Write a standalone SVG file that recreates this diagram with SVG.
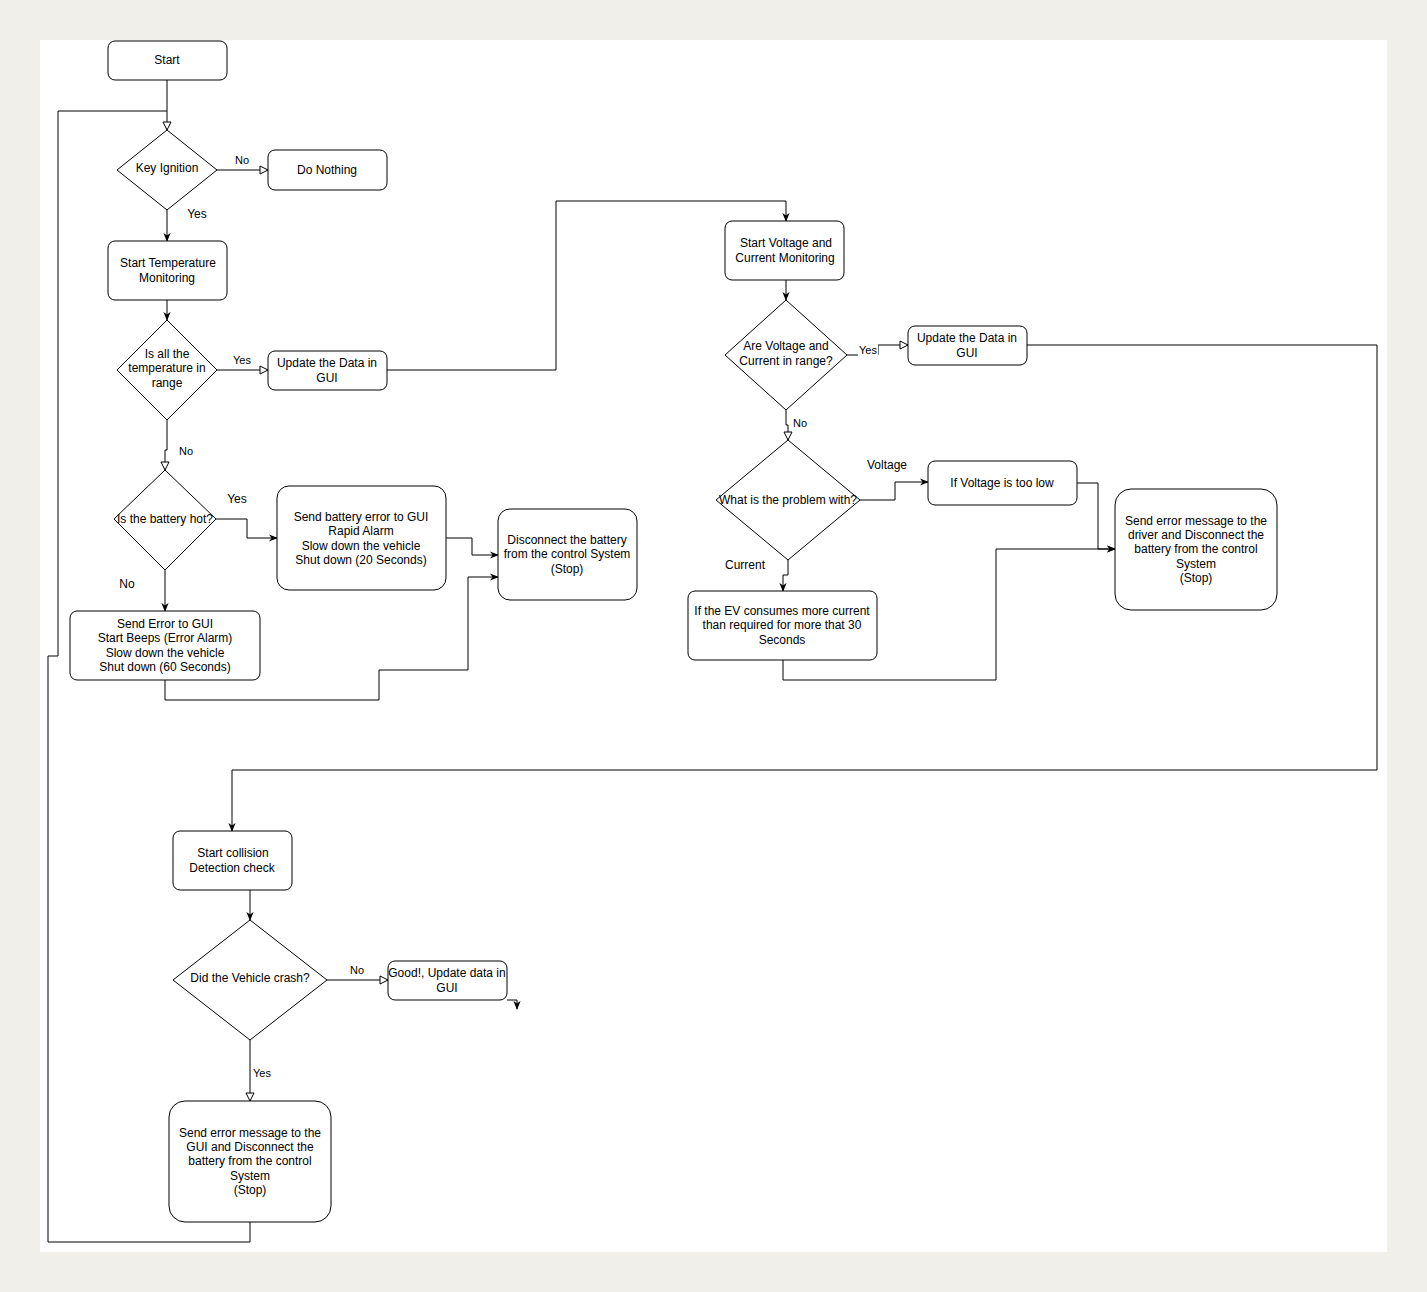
<svg xmlns="http://www.w3.org/2000/svg" width="1427" height="1292" viewBox="0 0 1427 1292">
<style>
.n{fill:#fff;stroke:#000;stroke-width:1}
.t{font-family:"Liberation Sans",Arial,sans-serif;font-size:12px;fill:#000;text-anchor:middle}
.l{font-family:"Liberation Sans",Arial,sans-serif;font-size:11px;fill:#000;text-anchor:middle}
.c{fill:none;stroke:#000;stroke-width:1}
.f{marker-end:url(#af)}
.h{marker-end:url(#ah)}
</style>
<defs>
<marker id="af" viewBox="0 0 10 10" refX="9" refY="5" markerWidth="9" markerHeight="9" orient="auto" markerUnits="userSpaceOnUse"><path d="M0,1 L10,5 L0,9 L3,5 Z" fill="#000"/></marker>
<marker id="ah" viewBox="0 0 10 10" refX="9" refY="5" markerWidth="10" markerHeight="10" orient="auto" markerUnits="userSpaceOnUse"><path d="M1,1 L9,5 L1,9 Z" fill="#fff" stroke="#000"/></marker>
</defs>
<rect width="1427" height="1292" fill="#f0efea"/>
<rect x="40" y="40" width="1347" height="1212" fill="#fff"/>
<g id="connectors">
<path class="c h" d="M167,80 V130"/>
<path class="c" d="M250,1222 V1242 H48 V656 H58 V111 H167"/>
<path class="c h" d="M217,170 H268"/>
<path class="c f" d="M167,210 V241"/>
<path class="c f" d="M167,300 V320"/>
<path class="c h" d="M217,370 H268"/>
<path class="c h" d="M167,420 V450 H165 V470"/>
<path class="c f" d="M387,370 H556 V201 H786 V221"/>
<path class="c f" d="M216,519 H247 V538 H277"/>
<path class="c f" d="M165,570 V611"/>
<path class="c f" d="M446,538 H472 V555 H498"/>
<path class="c f" d="M165,680 V700 H379 V670 H468 V577 H498"/>
<path class="c f" d="M786,280 V300"/>
<path class="c h" d="M847,355 H878 V345 H908"/>
<path class="c f" d="M1027,345 H1377 V770 H232 V831"/>
<path class="c h" d="M786,410 V425 H788 V440"/>
<path class="c f" d="M860,500 H895 V482 H928"/>
<path class="c f" d="M788,560 V575 H783 V591"/>
<path class="c f" d="M1077,483 H1098 V549 H1115" stroke="#555"/>
<path class="c f" d="M783,660 V680 H996 V549 H1115"/>
<path class="c f" d="M250,890 V920"/>
<path class="c h" d="M327,980 H388"/>
<path class="c h" d="M250,1040 V1101"/>
<path class="c f" d="M507,1000 H517 V1009"/>
<text class="l" x="242" y="164">No</text>
<text class="t" x="197" y="218">Yes</text>
<text class="l" x="242" y="364">Yes</text>
<text class="l" x="186" y="455">No</text>
<text class="t" x="237" y="503">Yes</text>
<text class="t" x="127" y="588">No</text>
<rect x="858" y="344" width="20" height="12" fill="#fff"/>
<text class="l" x="868" y="354">Yes</text>
<text class="l" x="800" y="427">No</text>
<text class="t" x="887" y="469">Voltage</text>
<text class="t" x="745" y="569">Current</text>
<text class="l" x="357" y="974">No</text>
<text class="l" x="262" y="1077">Yes</text>
</g>
<g id="start"><rect class="n" x="108" y="41" width="119" height="39" rx="7"/><text class="t" x="167" y="64">Start</text></g>
<g id="key"><path class="n" d="M167,130 L217,170 L167,210 L117,170 Z"/><text class="t" x="167" y="172">Key Ignition</text></g>
<g id="nothing"><rect class="n" x="268" y="150" width="119" height="40" rx="7"/><text class="t" x="327" y="174">Do Nothing</text></g>
<g id="temp"><rect class="n" x="108" y="241" width="119" height="59" rx="7"/><text class="t" x="168" y="267">Start Temperature</text><text class="t" x="167" y="282">Monitoring</text></g>
<g id="range"><path class="n" d="M167,320 L217,370 L167,420 L117,370 Z"/><text class="t" x="167" y="358">Is all the</text><text class="t" x="167" y="372">temperature in</text><text class="t" x="167" y="387">range</text></g>
<g id="gui1"><rect class="n" x="268" y="351" width="119" height="39" rx="7"/><text class="t" x="327" y="367">Update the Data in</text><text class="t" x="327" y="382">GUI</text></g>
<g id="hot"><path class="n" d="M165,470 L216,519 L165,570 L114,519 Z"/><text class="t" x="165" y="523">Is the battery hot?</text></g>
<g id="berr"><rect class="n" x="277" y="486" width="169" height="104" rx="12"/><text class="t" x="361" y="521">Send battery error to GUI</text><text class="t" x="361" y="535">Rapid Alarm</text><text class="t" x="361" y="550">Slow down the vehicle</text><text class="t" x="361" y="564">Shut down (20 Seconds)</text></g>
<g id="disc"><rect class="n" x="498" y="509" width="139" height="91" rx="12"/><text class="t" x="567" y="544">Disconnect the battery</text><text class="t" x="567" y="558">from the control System</text><text class="t" x="567" y="573">(Stop)</text></g>
<g id="err"><rect class="n" x="70" y="611" width="190" height="69" rx="7"/><text class="t" x="165" y="628">Send Error to GUI</text><text class="t" x="165" y="642">Start Beeps (Error Alarm)</text><text class="t" x="165" y="657">Slow down the vehicle</text><text class="t" x="165" y="671">Shut down (60 Seconds)</text></g>
<g id="volt"><rect class="n" x="725" y="221" width="119" height="59" rx="7"/><text class="t" x="786" y="247">Start Voltage and</text><text class="t" x="785" y="262">Current Monitoring</text></g>
<g id="vrange"><path class="n" d="M786,300 L847,355 L786,410 L725,355 Z"/><text class="t" x="786" y="350">Are Voltage and</text><text class="t" x="786" y="365">Current in range?</text></g>
<g id="gui2"><rect class="n" x="908" y="326" width="119" height="39" rx="7"/><text class="t" x="967" y="342">Update the Data in</text><text class="t" x="967" y="357">GUI</text></g>
<g id="what"><path class="n" d="M788,440 L860,500 L788,560 L716,500 Z"/><text class="t" x="788" y="504">What is the problem with?</text></g>
<g id="low"><rect class="n" x="928" y="461" width="149" height="44" rx="7"/><text class="t" x="1002" y="487">If Voltage is too low</text></g>
<g id="drv"><rect class="n" x="1115" y="489" width="162" height="121" rx="16"/><text class="t" x="1196" y="525">Send error message to the</text><text class="t" x="1196" y="539">driver and Disconnect the</text><text class="t" x="1196" y="553">battery from the control</text><text class="t" x="1196" y="568">System</text><text class="t" x="1196" y="582">(Stop)</text></g>
<g id="ev"><rect class="n" x="688" y="591" width="189" height="69" rx="7"/><text class="t" x="782" y="615">If the EV consumes more current</text><text class="t" x="782" y="629">than required for more that 30</text><text class="t" x="782" y="644">Seconds</text></g>
<g id="coll"><rect class="n" x="173" y="831" width="119" height="59" rx="7"/><text class="t" x="233" y="857">Start collision</text><text class="t" x="232" y="872">Detection check</text></g>
<g id="crash"><path class="n" d="M250,920 L327,980 L250,1040 L173,980 Z"/><text class="t" x="250" y="982">Did the Vehicle crash?</text></g>
<g id="good"><rect class="n" x="388" y="961" width="119" height="39" rx="7"/><text class="t" x="447" y="977">Good!, Update data in</text><text class="t" x="447" y="992">GUI</text></g>
<g id="stop"><rect class="n" x="169" y="1101" width="162" height="121" rx="16"/><text class="t" x="250" y="1137">Send error message to the</text><text class="t" x="250" y="1151">GUI and Disconnect the</text><text class="t" x="250" y="1165">battery from the control</text><text class="t" x="250" y="1180">System</text><text class="t" x="250" y="1194">(Stop)</text></g>
</svg>
